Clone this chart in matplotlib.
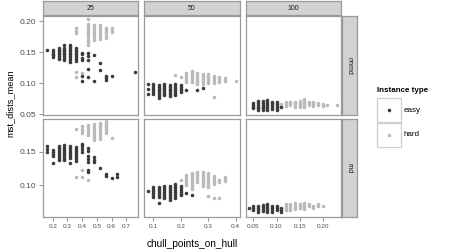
import matplotlib
matplotlib.use("Agg")
import matplotlib.pyplot as plt
from matplotlib.patches import Rectangle

plt.rcParams['font.family'] = ['Liberation Sans', 'DejaVu Sans']

# values: {chull_points_on_hull: [mst_dists_mean, ...]}
nnmd25_easy = {
    0.16: [0.154],
    0.20: [0.153, 0.150, 0.147, 0.145, 0.142],
    0.24: [0.157, 0.154, 0.151, 0.148, 0.146, 0.143, 0.141, 0.138],
    0.28: [0.161, 0.157, 0.154, 0.151, 0.148, 0.146, 0.143, 0.140, 0.137],
    0.32: [0.162, 0.158, 0.155, 0.152, 0.149, 0.146, 0.143, 0.140, 0.137, 0.134],
    0.36: [0.157, 0.154, 0.151, 0.148, 0.145, 0.142, 0.139, 0.136],
    0.40: [0.149, 0.146, 0.141, 0.137, 0.111, 0.104],
    0.44: [0.149, 0.143, 0.137, 0.123, 0.110],
    0.48: [0.145, 0.104],
    0.52: [0.133, 0.121],
    0.56: [0.111, 0.108, 0.105],
    0.60: [0.111],
    0.76: [0.118],
}
nnmd25_hard = {
    0.36: [0.188, 0.184, 0.180, 0.117, 0.110],
    0.40: [0.116],
    0.44: [0.203, 0.196, 0.192, 0.189, 0.186, 0.183, 0.180, 0.177, 0.174, 0.170, 0.166, 0.161],
    0.48: [0.194, 0.191, 0.188, 0.185, 0.182, 0.179, 0.176, 0.173, 0.169],
    0.52: [0.193, 0.190, 0.187, 0.184, 0.181, 0.178, 0.175, 0.171],
    0.56: [0.189, 0.186, 0.183, 0.180, 0.176, 0.172],
    0.60: [0.189, 0.185, 0.182],
}
nnmd50_easy = {
    0.08: [0.098, 0.090, 0.082],
    0.10: [0.098, 0.095, 0.092, 0.089, 0.086, 0.083],
    0.12: [0.097, 0.094, 0.091, 0.088, 0.085, 0.082, 0.079, 0.076],
    0.14: [0.098, 0.095, 0.092, 0.089, 0.086, 0.083, 0.080],
    0.16: [0.097, 0.094, 0.091, 0.088, 0.085, 0.082, 0.079],
    0.18: [0.098, 0.095, 0.092, 0.089, 0.086, 0.083, 0.080],
    0.20: [0.097, 0.094, 0.091, 0.088, 0.085],
    0.22: [0.088],
    0.26: [0.089],
    0.28: [0.092],
}
nnmd50_hard = {
    0.18: [0.113],
    0.20: [0.109],
    0.22: [0.116, 0.113, 0.110, 0.107, 0.104, 0.101],
    0.24: [0.119, 0.116, 0.113, 0.110, 0.107, 0.104, 0.101],
    0.26: [0.116, 0.113, 0.110, 0.107, 0.104, 0.101, 0.098],
    0.28: [0.114, 0.111, 0.108, 0.105, 0.102, 0.099],
    0.30: [0.115, 0.112, 0.109, 0.106, 0.103, 0.100],
    0.32: [0.112, 0.109, 0.106, 0.103, 0.100, 0.078],
    0.34: [0.109, 0.106, 0.103, 0.101],
    0.36: [0.108, 0.105, 0.103],
    0.40: [0.103],
}
nnmd100_easy = {
    0.05: [0.068, 0.065, 0.062, 0.059],
    0.06: [0.071, 0.068, 0.065, 0.062, 0.059, 0.056],
    0.07: [0.071, 0.068, 0.065, 0.062, 0.059, 0.056],
    0.08: [0.072, 0.069, 0.066, 0.063, 0.060, 0.057],
    0.09: [0.070, 0.067, 0.064, 0.061, 0.058],
    0.10: [0.069, 0.066, 0.063, 0.060, 0.057],
    0.11: [0.062],
}
nnmd100_hard = {
    0.11: [0.066, 0.063],
    0.12: [0.069, 0.066, 0.063],
    0.13: [0.070, 0.067, 0.064],
    0.14: [0.070, 0.067, 0.064, 0.061],
    0.15: [0.071, 0.068, 0.065, 0.062],
    0.16: [0.074, 0.071, 0.068, 0.065, 0.062],
    0.17: [0.070, 0.067, 0.064],
    0.18: [0.069, 0.066, 0.063],
    0.19: [0.068, 0.065],
    0.20: [0.066, 0.063],
    0.21: [0.064],
    0.23: [0.064],
}
rnd25_easy = {
    0.16: [0.158, 0.154, 0.150],
    0.20: [0.153, 0.150, 0.147, 0.144, 0.133],
    0.24: [0.159, 0.156, 0.153, 0.150, 0.147, 0.144, 0.141, 0.138],
    0.28: [0.160, 0.157, 0.154, 0.151, 0.148, 0.145, 0.142, 0.139, 0.137],
    0.32: [0.159, 0.156, 0.153, 0.150, 0.147, 0.144, 0.141, 0.133],
    0.36: [0.157, 0.154, 0.151, 0.148, 0.145, 0.142, 0.139, 0.136],
    0.40: [0.162, 0.158, 0.154, 0.150],
    0.44: [0.155, 0.151, 0.143, 0.139, 0.135, 0.122, 0.119],
    0.48: [0.142, 0.138, 0.135],
    0.52: [0.125],
    0.56: [0.116, 0.113],
    0.60: [0.110],
    0.64: [0.116, 0.112],
}
rnd25_hard = {
    0.36: [0.184, 0.112],
    0.40: [0.188, 0.184, 0.181, 0.178, 0.122, 0.112],
    0.44: [0.190, 0.187, 0.184, 0.181, 0.178, 0.175, 0.108],
    0.48: [0.192, 0.189, 0.186, 0.183, 0.180, 0.177, 0.174, 0.171, 0.168],
    0.52: [0.193, 0.190, 0.187, 0.184, 0.181, 0.178, 0.175, 0.172, 0.169],
    0.56: [0.196, 0.193, 0.190, 0.187, 0.184, 0.181, 0.178],
    0.60: [0.170],
}
rnd50_easy = {
    0.08: [0.091],
    0.10: [0.097, 0.094, 0.091, 0.088, 0.085, 0.082],
    0.12: [0.097, 0.094, 0.091, 0.088, 0.085, 0.082, 0.073],
    0.14: [0.099, 0.096, 0.093, 0.090, 0.087, 0.084, 0.081],
    0.16: [0.099, 0.096, 0.093, 0.090, 0.087, 0.084, 0.081, 0.078],
    0.18: [0.102, 0.099, 0.096, 0.093, 0.090, 0.087, 0.084, 0.081],
    0.20: [0.099, 0.096, 0.093, 0.090, 0.087, 0.085],
    0.22: [0.088],
    0.24: [0.085],
}
rnd50_hard = {
    0.20: [0.107],
    0.22: [0.115, 0.112, 0.109, 0.106, 0.103, 0.100],
    0.24: [0.118, 0.115, 0.112, 0.109, 0.106, 0.103, 0.100, 0.097, 0.094],
    0.26: [0.119, 0.116, 0.113, 0.110, 0.107, 0.104],
    0.28: [0.119, 0.116, 0.113, 0.110, 0.107, 0.104, 0.101, 0.099],
    0.30: [0.118, 0.115, 0.112, 0.109, 0.106, 0.103, 0.100, 0.097, 0.083],
    0.32: [0.114, 0.111, 0.108, 0.105, 0.102, 0.081],
    0.34: [0.108, 0.105, 0.081],
    0.36: [0.112, 0.109, 0.106],
}
rnd100_easy = {
    0.04: [0.066],
    0.05: [0.068, 0.065, 0.063],
    0.06: [0.069, 0.066, 0.063, 0.060],
    0.07: [0.070, 0.067, 0.064, 0.061],
    0.08: [0.072, 0.069, 0.066, 0.063, 0.060],
    0.09: [0.069, 0.066, 0.063, 0.060],
    0.10: [0.068, 0.065, 0.062],
    0.11: [0.066, 0.063, 0.060],
}
rnd100_hard = {
    0.12: [0.072, 0.069, 0.066, 0.063],
    0.13: [0.072, 0.069, 0.066, 0.063],
    0.14: [0.073, 0.070, 0.067, 0.064],
    0.15: [0.072, 0.069, 0.066],
    0.16: [0.073, 0.070, 0.067, 0.064],
    0.17: [0.071, 0.068],
    0.18: [0.069, 0.066],
    0.19: [0.072, 0.069],
    0.20: [0.068],
}

sizes = ['25', '50', '100']
methods = ['nnmd', 'rnd']
data = {
    ('nnmd', '25'): (nnmd25_easy, nnmd25_hard),
    ('nnmd', '50'): (nnmd50_easy, nnmd50_hard),
    ('nnmd', '100'): (nnmd100_easy, nnmd100_hard),
    ('rnd', '25'): (rnd25_easy, rnd25_hard),
    ('rnd', '50'): (rnd50_easy, rnd50_hard),
    ('rnd', '100'): (rnd100_easy, rnd100_hard),
}
x_ticks = [[0.2, 0.3, 0.4, 0.5, 0.6, 0.7], [0.1, 0.2, 0.3, 0.4], [0.05, 0.10, 0.15, 0.20]]
x_labels = [['0.2', '0.3', '0.4', '0.5', '0.6', '0.7'], ['0.1', '0.2', '0.3', '0.4'],
            ['0.05', '0.10', '0.15', '0.20']]
y_ticks = [[0.05, 0.10, 0.15, 0.20], [0.10, 0.15]]

EASY = '#3b3b3b'
HARD = '#bababa'
EDGE = '#9a9a9a'
W, H = 450, 250
PT = 6.5

fig = plt.figure(figsize=(4.5, 2.5), dpi=100)


def px_axes(x0, y0, x1, y1):
    return fig.add_axes([x0 / W, 1 - y1 / H, (x1 - x0) / W, (y1 - y0) / H])


def flat(d):
    xs = [x for x, ys in d.items() for _ in ys]
    ys = [y for x, yl in d.items() for y in yl]
    return xs, ys


cols = [(43, 138), (144, 240), (246, 341)]
rows = [(16, 115), (119, 217)]
xlims = [(0.134, 0.78), (0.066, 0.416), (0.034, 0.2395)]
ylims = [(0.0484, 0.2081), (0.052, 0.199)]

for r, m in enumerate(methods):
    for c, s in enumerate(sizes):
        ax = px_axes(cols[c][0], rows[r][0], cols[c][1], rows[r][1])
        easy, hard = data[(m, s)]
        ex, ey = flat(easy)
        hx, hy = flat(hard)
        ax.scatter(hx, hy, s=PT, c=HARD, linewidths=0, zorder=3)
        ax.scatter(ex, ey, s=PT, c=EASY, linewidths=0, zorder=3)
        ax.set_xlim(xlims[c])
        ax.set_ylim(ylims[r])
        for sp in ax.spines.values():
            sp.set_color(EDGE)
            sp.set_linewidth(0.9)
        ax.tick_params(colors=EDGE, length=3, width=0.8, labelcolor='#4d4d4d', pad=2)
        ax.set_yticks(y_ticks[r])
        if c == 0:
            ax.set_yticklabels(['%.2f' % v for v in y_ticks[r]], fontsize=6)
        else:
            ax.set_yticklabels([])
            ax.tick_params(axis='y', length=0)
        ax.set_xticks(x_ticks[c])
        if r == 1:
            ax.set_xticklabels(x_labels[c], fontsize=4.6)
        else:
            ax.set_xticklabels([])
            ax.tick_params(axis='x', length=0)

# top strips
for c, s in enumerate(sizes):
    st = px_axes(cols[c][0], 1, cols[c][1], 15)
    st.set_facecolor('#d2d2d2')
    st.set_xticks([])
    st.set_yticks([])
    for sp in st.spines.values():
        sp.set_color(EDGE)
        sp.set_linewidth(0.9)
    st.text(0.5, 0.5, s, ha='center', va='center', fontsize=5, color='#1a1a1a',
            transform=st.transAxes)

# right strips
for r, m in enumerate(methods):
    st = px_axes(342, rows[r][0], 357, rows[r][1])
    st.set_facecolor('#d2d2d2')
    st.set_xticks([])
    st.set_yticks([])
    for sp in st.spines.values():
        sp.set_color(EDGE)
        sp.set_linewidth(0.9)
    st.text(0.5, 0.5, m, ha='center', va='center', fontsize=5, rotation=-90,
            color='#1a1a1a', transform=st.transAxes)

fig.text(192 / W, 1 - 244 / H, 'chull_points_on_hull', ha='center', va='center', fontsize=7.2)
fig.text(10 / W, 1 - 103 / H, 'mst_dists_mean', ha='center', va='center', fontsize=6.7,
         rotation=90)

# legend
fig.text(377 / W, 1 - 90 / H, 'Instance type', ha='left', va='center', fontsize=5.8,
         fontweight='bold')
leg = px_axes(377, 98, 401, 147)
leg.set_xlim(0, 1)
leg.set_ylim(0, 2)
leg.axis('off')
for i, col in enumerate([EASY, HARD]):
    leg.add_patch(Rectangle((0, 1 - i), 1, 1, facecolor='white', edgecolor='#cfcfcf',
                            linewidth=0.9, clip_on=False))
    leg.scatter([0.5], [1.5 - i], s=PT, c=col, linewidths=0, zorder=3)
for i, lab in enumerate(['easy', 'hard']):
    fig.text(404 / W, 1 - (110.5 + 24 * i) / H, lab, ha='left', va='center', fontsize=5.8)

fig.savefig('out.png', dpi=100)
